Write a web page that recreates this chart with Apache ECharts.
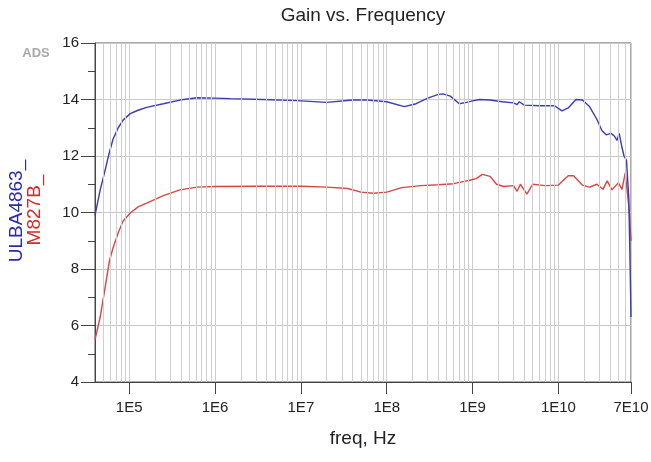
<!DOCTYPE html>
<html>
<head>
<meta charset="utf-8">
<script src="https://cdn.jsdelivr.net/npm/echarts@6/dist/echarts.min.js"></script>
<style>
html,body{margin:0;padding:0;background:#fff;}
#main{width:651px;height:462px;}
</style>
</head>
<body>
<div id="main"></div>
<script>
var freqBlue = [4.0e4, 4.6e4, 5.25e4, 5.85e4, 6.5e4, 7.45e4, 8.5e4, 1.03e5, 1.27e5, 1.6e5, 2.5e5, 3.9e5, 6.2e5, 1e6, 1.5e6, 3.6e6, 9e6, 2e7, 4e7, 6e7, 1e8, 1.6e8, 2.2e8, 3e8, 4e8, 4.5e8, 5.5e8, 7e8, 8.5e8, 1e9, 1.2e9, 1.6e9, 2.2e9, 3e9, 3.3e9, 3.5e9, 4e9, 6e9, 9e9, 1.1e10, 1.3e10, 1.6e10, 1.9e10, 2.3e10, 2.8e10, 3.2e10, 3.6e10, 4.1e10, 4.5e10, 4.8e10, 5.1e10, 5.5e10, 5.8e10, 6.2e10, 6.6e10, 6.8e10, 7e10];
var gainBlue = [9.9, 10.8, 11.5, 12.1, 12.6, 13.0, 13.27, 13.5, 13.62, 13.72, 13.85, 13.98, 14.06, 14.05, 14.03, 14.0, 13.96, 13.9, 13.98, 13.98, 13.92, 13.75, 13.85, 14.05, 14.18, 14.2, 14.12, 13.85, 13.9, 13.95, 14.0, 13.98, 13.92, 13.88, 13.82, 13.92, 13.8, 13.78, 13.78, 13.6, 13.7, 14.0, 13.98, 13.75, 13.3, 12.9, 12.75, 12.8, 12.7, 12.55, 12.8, 12.3, 12.0, 11.85, 10.5, 8.5, 6.3];

var freqRed = [4.0e4, 4.6e4, 5.25e4, 5.9e4, 6.5e4, 7.5e4, 8.5e4, 1.03e5, 1.27e5, 1.6e5, 2.5e5, 3.9e5, 6.2e5, 1e6, 3e6, 1e7, 2e7, 3.5e7, 5e7, 7e7, 1e8, 1.5e8, 2.5e8, 4e8, 6e8, 8e8, 9.5e8, 1.1e9, 1.3e9, 1.6e9, 1.9e9, 2.3e9, 3e9, 3.3e9, 3.6e9, 4.3e9, 5e9, 7e9, 1e10, 1.3e10, 1.5e10, 1.9e10, 2.3e10, 2.8e10, 3.3e10, 3.7e10, 4.2e10, 5e10, 5.5e10, 6e10, 6.3e10, 6.7e10, 7e10];
var gainRed = [5.5, 6.3, 7.35, 8.3, 8.75, 9.3, 9.7, 9.98, 10.2, 10.33, 10.6, 10.8, 10.9, 10.92, 10.93, 10.93, 10.9, 10.85, 10.72, 10.68, 10.72, 10.88, 10.95, 10.98, 11.02, 11.1, 11.15, 11.2, 11.35, 11.28, 11.0, 10.92, 10.95, 10.75, 11.0, 10.65, 11.0, 10.95, 10.97, 11.3, 11.3, 10.97, 10.9, 11.0, 10.82, 11.12, 10.8, 11.05, 10.82, 11.4, 10.8, 10.0, 9.0];

var decades = [4, 5, 6, 7, 8, 9, 10];
var mantissas = [2, 3, 4, 5, 6, 7, 8, 9];
var xMin = 4e4, xMax = 7e10;

function pairs(xs, ys) {
	return xs.map(function (x, i) { return [x, ys[i]]; });
}

// minor log grid lines (2..9 x each decade)
var minorLines = [];
decades.forEach(function (d) {
	mantissas.forEach(function (m) {
		var v = m * Math.pow(10, d);
		if (v > xMin && v < xMax) minorLines.push({xAxis: v});
	});
});

var chart = echarts.init(document.getElementById('main'));
var option = {
	animation: false,
	textStyle: {fontFamily: 'Liberation Sans, Arial, sans-serif'},
	grid: {
		left: 95, right: 20, top: 43, bottom: 80,
		show: true, borderColor: '#555', borderWidth: 1,
		outerBoundsMode: 'none'
	},
	graphic: [
		{type: 'text', x: 363, y: 16, style: {text: 'Gain vs. Frequency', fontSize: 19, fill: '#222', align: 'center', verticalAlign: 'middle', fontFamily: 'Liberation Sans'}},
		{type: 'text', x: 36, y: 53, style: {text: 'ADS', fontSize: 13, fontWeight: 'bold', fill: '#aaa', align: 'center', verticalAlign: 'middle', fontFamily: 'Liberation Sans'}},
		{type: 'text', x: 17, y: 211, rotation: Math.PI / 2, style: {text: 'ULBA4863_', fontSize: 19, fill: '#2b2ba8', align: 'center', verticalAlign: 'middle', fontFamily: 'Liberation Sans'}},
		{type: 'text', x: 35, y: 210, rotation: Math.PI / 2, style: {text: 'M827B_', fontSize: 19, fill: '#d42a2a', align: 'center', verticalAlign: 'middle', fontFamily: 'Liberation Sans'}}
	],
	xAxis: {
		type: 'log',
		logBase: 10,
		min: xMin,
		max: xMax,
		name: 'freq, Hz',
		nameLocation: 'middle',
		nameGap: 47,
		nameTextStyle: {fontSize: 19, color: '#222'},
		axisLine: {lineStyle: {color: '#444'}},
		axisTick: {show: true, length: 12, lineStyle: {color: '#444'}},
		axisLabel: {
			fontSize: 15, color: '#222', margin: 18,
			showMinLabel: false, showMaxLabel: true,
			formatter: function (v) {
				var e = Math.floor(Math.log10(v) + 1e-9);
				var m = Math.round(v / Math.pow(10, e));
				return m + 'E' + e;
			}
		},
		splitLine: {show: true, lineStyle: {color: '#cfcfcf', width: 1}}
	},
	yAxis: {
		type: 'value',
		min: 4,
		max: 16,
		interval: 2,
		axisLine: {show: true, lineStyle: {color: '#444'}},
		axisTick: {show: true, length: 14, lineStyle: {color: '#444'}},
		minorTick: {show: true, splitNumber: 2, length: 7, lineStyle: {color: '#444'}},
		axisLabel: {fontSize: 15, color: '#222', margin: 16},
		splitLine: {show: true, lineStyle: {color: '#c8c8c8', width: 1.2}}
	},
	series: [
		{
			name: 'grid',
			type: 'line',
			z: 1,
			data: [],
			markLine: {
				silent: true,
				symbol: ['none', 'none'],
				label: {show: false},
				lineStyle: {color: '#cfcfcf', type: 'solid', width: 1},
				data: minorLines
			}
		},
		{
			name: 'M827B_',
			type: 'line',
			z: 3,
			showSymbol: false,
			data: pairs(freqRed, gainRed),
			lineStyle: {color: '#d84545', width: 1.4},
			itemStyle: {color: '#d84545'}
		},
		{
			name: 'ULBA4863_',
			type: 'line',
			z: 4,
			showSymbol: false,
			data: pairs(freqBlue, gainBlue),
			lineStyle: {color: '#3b3bb8', width: 1.4},
			itemStyle: {color: '#3b3bb8'}
		}
	]
};
chart.setOption(option);
</script>
</body>
</html>
